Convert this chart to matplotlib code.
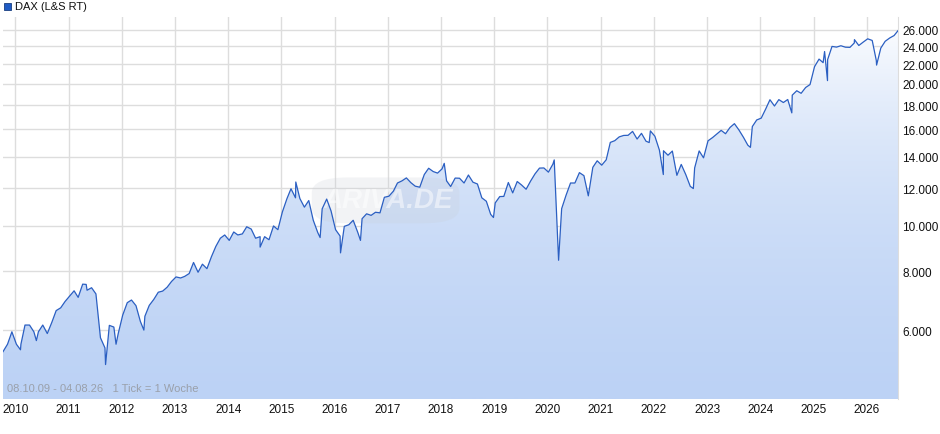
import numpy as np
import pandas as pd
import matplotlib
matplotlib.use("Agg")
import matplotlib.pyplot as plt
import matplotlib.dates as mdates
from matplotlib.ticker import FixedLocator, NullLocator
from matplotlib.colors import LinearSegmentedColormap
from matplotlib.patches import FancyBboxPatch

plt.rcParams['font.family'] = ['Liberation Sans', 'DejaVu Sans']

# monthly levels (Oct 2009 .. Aug 2026)
monthly = [
    5400, 5600, 5950,
    5600, 5600, 6150, 6150, 5950, 5950, 6150, 5900, 6230, 6600, 6690, 6900,
    7080, 7270, 7040, 7510, 7290, 7380, 7160, 5780, 5500, 6140, 6090, 5900,
    6460, 6860, 6950, 6760, 6260, 6420, 6770, 6970, 7220, 7260, 7400, 7610,
    7780, 7740, 7800, 7910, 8350, 7960, 8280, 8100, 8590, 9030, 9400, 9550,
    9300, 9690, 9550, 9600, 9940, 9830, 9400, 9470, 9470, 9330, 9980, 9800,
    10690, 11400, 11970, 11450, 11410, 10940, 11300, 10260, 9660, 10850, 11380, 10740,
    9800, 9500, 9960, 10040, 10260, 9680, 10340, 10590, 10510, 10670, 10640, 11480,
    11540, 11830, 12310, 12440, 12620, 12330, 12120, 12060, 12830, 13230, 13020, 12920,
    13190, 12440, 12100, 12610, 12600, 12310, 12800, 12360, 12250, 11450, 11260, 10560,
    11170, 11520, 11530, 12340, 11730, 12400, 12190, 11940, 12430, 12870, 13240, 13250,
    12980, 13500, 9940, 10860, 11590, 12310, 12310, 12950, 12760, 11560, 13290, 13720,
    13430, 13790, 15010, 15140, 15420, 15530, 15540, 15840, 15260, 15690, 15100, 15880,
    15470, 14460, 14410, 14100, 14390, 12780, 13480, 12830, 12110, 13250, 14400, 13920,
    15130, 15370, 15630, 15920, 15660, 16150, 16450, 15950, 15390, 14810, 16220, 16750,
    16900, 17680, 18490, 17930, 18500, 18240, 18510, 18910, 19320, 19080, 19630, 19910,
    21730, 22550, 22160, 22500, 23990, 23910, 24070, 23900, 23880, 24400, 24100, 24500,
    24900, 24700, 22400, 23800, 24600, 25000, 25300, 26000,
]
month_dates = pd.date_range("2009-10-08", periods=len(monthly), freq="MS") + pd.Timedelta(days=7)
month_dates = month_dates.insert(0, pd.Timestamp("2009-10-08"))[:-1]

# intra-month extremes
extra_dates = pd.to_datetime([
    "2010-02-05", "2010-05-25", "2011-05-02", "2011-09-12", "2011-11-23",
    "2012-06-01", "2014-08-08", "2015-04-10", "2015-09-24", "2016-02-11",
    "2016-06-27", "2018-01-23", "2018-12-27", "2020-02-17", "2020-03-18",
    "2021-11-30", "2022-03-07", "2022-09-29", "2023-10-26", "2024-08-05",
    "2025-03-18", "2025-04-07", "2025-10-09", "2026-03-10",
])
extra_values = [
    5450, 5700, 7500, 5070, 5600,
    6000, 9000, 12370, 9430, 8750,
    9300, 13550, 10400, 13780, 8440,
    15000, 12830, 11980, 14650, 17340,
    23400, 20300, 24800, 21900,
]

year_ticks = list(range(2010, 2027))
y_ticks = [6000, 8000, 10000, 12000, 14000, 16000, 18000, 20000, 22000, 24000, 26000]

s = pd.Series(monthly, index=month_dates)
s = pd.concat([s, pd.Series(extra_values, index=extra_dates)]).sort_index()
x = mdates.date2num(s.index)
y = s.values

fig = plt.figure(figsize=(9.4, 4.35), dpi=100)
ax = fig.add_axes([3 / 940, 35 / 435, 895 / 940, 382 / 435])
ax.set_yscale("log")
ymin, ymax = 4285, 27700
ax.set_ylim(ymin, ymax)
ax.set_xlim(mdates.date2num(pd.Timestamp("2009-10-08")), mdates.date2num(pd.Timestamp("2026-08-04")))

# gradient fill under the line
grad = np.linspace(0, 1, 256).reshape(-1, 1)
cmap = LinearSegmentedColormap.from_list("g", ["#bcd2f5", "#ffffff"])
img = ax.imshow(grad, cmap=cmap, aspect="auto", origin="lower",
                extent=[x[0], x[-1], ymin, ymax], zorder=1)
poly = ax.fill_between(x, y, ymin, color="none")
img.set_clip_path(poly.get_paths()[0], transform=ax.transData)
ax.plot(x, y, color="#2b5fc2", lw=0.9, zorder=3)

ax.yaxis.set_major_locator(FixedLocator(y_ticks))
ax.yaxis.set_minor_locator(NullLocator())
ax.set_yticklabels([f"{v:,}".replace(",", ".") for v in y_ticks])
ax.yaxis.tick_right()
xt = [mdates.date2num(pd.Timestamp(f"{yr}-01-01")) for yr in year_ticks]
ax.set_xticks(xt)
ax.set_xticklabels([str(yr) for yr in year_ticks])
ax.tick_params(length=0, labelsize=8.5, colors="#111111", pad=3)
ax.grid(True, color="#dddddd", lw=1, zorder=0)
ax.set_axisbelow(True)
for sp in ax.spines.values():
    sp.set_visible(False)
ax.spines["right"].set_visible(True)
ax.spines["right"].set_color("#dddddd")

# faint watermark
ax.add_patch(FancyBboxPatch((0.345, 0.46), 0.165, 0.12, boxstyle="round,pad=0.0,rounding_size=0.04",
                            transform=ax.transAxes, facecolor="#c8ccd4", edgecolor="none",
                            alpha=0.22, zorder=2))
ax.text(0.43, 0.52, "ARIVA.DE", transform=ax.transAxes, fontsize=20, style="italic",
        fontweight="bold", color="#ffffff", alpha=0.5, ha="center", va="center", zorder=2)
ax.text(0.005, 0.015, "08.10.09 - 04.08.26   1 Tick = 1 Woche", transform=ax.transAxes,
        fontsize=8, color="#9aa0aa", ha="left", va="bottom", zorder=4)

fig.patches.append(plt.Rectangle((4 / 940, 1 - 11 / 435), 7 / 940, 7 / 435, transform=fig.transFigure,
                                 facecolor="#1f5bc4", edgecolor="#1a3f80", lw=0.6))
fig.text(15 / 940, 1 - 7 / 435, "DAX (L&S RT)", fontsize=8, va="center", color="#111111")

fig.savefig("out.png", dpi=100)
